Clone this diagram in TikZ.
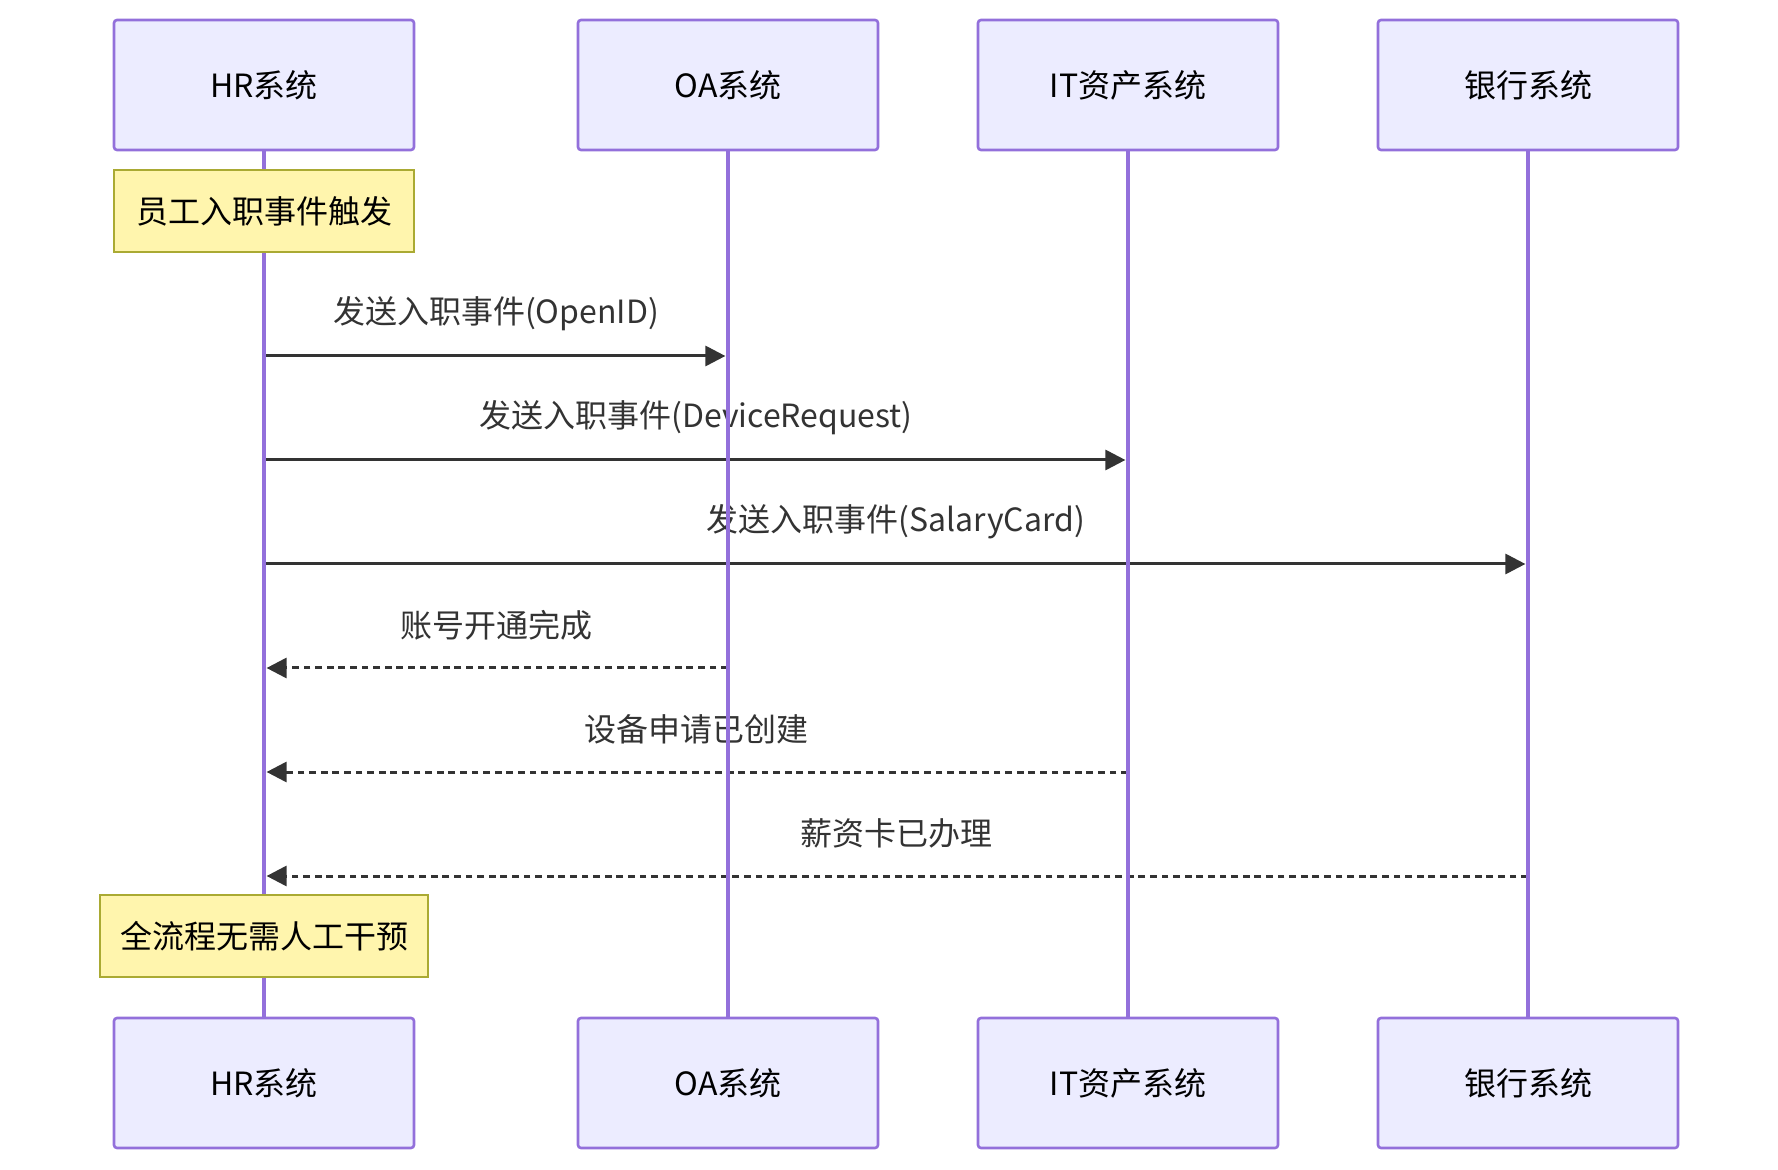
\documentclass[tikz,border=0pt]{standalone}
\usepackage{fontspec}
\setmainfont{Noto Sans CJK SC}
\usetikzlibrary{arrows.meta}

\definecolor{actorfill}{HTML}{ECECFF}
\definecolor{actorline}{HTML}{9370DB}
\definecolor{notefill}{HTML}{FFF5AD}
\definecolor{noteline}{HTML}{AAAA33}
\definecolor{msgline}{HTML}{333333}

\tikzset{
  actor/.style={draw=actorline, line width=1.3pt, fill=actorfill, rounded corners=1.5pt,
    minimum width=150pt, minimum height=65pt, inner sep=0pt, font=\fontsize{16}{19}\selectfont},
  note/.style={draw=noteline, line width=1.1pt, fill=notefill, minimum width=150pt,
    minimum height=41pt, inner xsep=10pt, inner ysep=0pt, font=\fontsize{16}{19}\selectfont},
  lifeline/.style={draw=actorline, line width=1.9pt},
  msg/.style={draw=msgline, line width=1.5pt, shorten >=1.3pt, -{Triangle[length=10pt,width=10pt]}},
  reply/.style={msg, dash pattern=on 3.4pt off 2.4pt},
  msglabel/.style={text=msgline, inner sep=0pt, font=\fontsize{16}{19}\selectfont}
}

\begin{document}
\begin{tikzpicture}[x=0.5pt,y=-0.5pt]
\useasboundingbox (0,0) rectangle (1778,1170);

% actors, top and bottom
\node[actor] (hrTop) at (264,85) {HR系统};
\node[actor] (oaTop) at (728,85) {OA系统};
\node[actor] (itTop) at (1128,85) {IT资产系统};
\node[actor] (bankTop) at (1528,85) {银行系统};

\node[actor] (hrBot) at (264,1083) {HR系统};
\node[actor] (oaBot) at (728,1083) {OA系统};
\node[actor] (itBot) at (1128,1083) {IT资产系统};
\node[actor] (bankBot) at (1528,1083) {银行系统};

% message rows on the lifelines
\foreach \n/\y in {1/356,2/460,3/564,4/668,5/772,6/876} {
  \coordinate (hr\n) at (264,\y);
  \coordinate (oa\n) at (728,\y);
  \coordinate (it\n) at (1128,\y);
  \coordinate (bank\n) at (1528,\y);
}

\node[msglabel] (lblOpen) at (496,314) {发送入职事件(OpenID)};
\node[msglabel] (lblDevice) at (696,418) {发送入职事件(DeviceRequest)};
\node[msglabel] (lblSalary) at (896,522) {发送入职事件(SalaryCard)};
\node[msglabel] (lblAccount) at (496,625) {账号开通完成};
\node[msglabel] (lblCreated) at (696,729) {设备申请已创建};
\node[msglabel] (lblCard) at (896,833) {薪资卡已办理};

\draw[msg] (hr1) -- (oa1);
\draw[msg] (hr2) -- (it2);
\draw[msg] (hr3) -- (bank3);
\draw[reply] (oa4) -- (hr4);
\draw[reply] (it5) -- (hr5);
\draw[reply] (bank6) -- (hr6);

% lifelines
\draw[lifeline] (hrTop) -- (hrBot);
\draw[lifeline] (oaTop) -- (oaBot);
\draw[lifeline] (itTop) -- (itBot);
\draw[lifeline] (bankTop) -- (bankBot);

% notes
\node[note] (startNote) at (264,211) {员工入职事件触发};
\node[note] (endNote) at (264,936) {全流程无需人工干预};
\end{tikzpicture}
\end{document}
